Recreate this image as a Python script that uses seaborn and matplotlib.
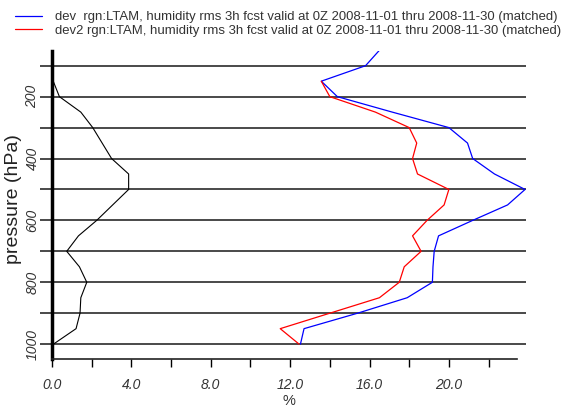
import numpy as np
import pandas as pd
import seaborn as sns
import matplotlib.pyplot as plt

# pressure levels (hPa) and values
levels_dev = [50, 100, 150, 200, 250, 300, 350, 400, 450, 500, 550, 600, 650, 700, 750, 800, 850, 900, 950, 1000]
dev_rms = [16.5, 15.8, 13.57, 14.38, 17.15, 20.0, 20.94, 21.2, 22.3, 23.84, 22.96, 21.2, 19.48, 19.26, 19.2, 19.17, 17.9, 15.4, 12.7, 12.52]

levels_dev2 = [150, 200, 250, 300, 350, 400, 450, 500, 550, 600, 650, 700, 750, 800, 850, 900, 950, 1000]
dev2_rms = [13.57, 14.0, 16.3, 18.0, 18.38, 18.17, 18.42, 20.0, 19.76, 18.9, 18.17, 18.6, 17.75, 17.5, 16.5, 14.0, 11.5, 12.45]

levels_diff = [150, 200, 250, 300, 400, 450, 500, 600, 650, 700, 750, 800, 850, 900, 950, 1000]
diff_vals = [0.06, 0.37, 1.45, 2.05, 3.0, 3.86, 3.86, 2.25, 1.33, 0.74, 1.38, 1.75, 1.45, 1.41, 1.21, 0.07]

legend_labels = ['dev  rgn:LTAM, humidity rms 3h fcst valid at 0Z 2008-11-01 thru 2008-11-30 (matched)',
                 'dev2 rgn:LTAM, humidity rms 3h fcst valid at 0Z 2008-11-01 thru 2008-11-30 (matched)']

sns.set_style('white')
plt.rcParams['font.family'] = ['Liberation Sans', 'DejaVu Sans']

fig = plt.figure(figsize=(5.72, 4.07), dpi=100)
ax = fig.add_axes([0.091, 0.118, 0.829, 0.757])

# horizontal pressure lines
for p in range(100, 1001, 100):
    ax.axhline(p, color='#3a3a3a', linewidth=1.3, zorder=1)

sns.lineplot(x=dev_rms, y=levels_dev, sort=False, estimator=None, color='blue',
             linewidth=0.9, ax=ax, label=legend_labels[0], legend=False, zorder=3)
sns.lineplot(x=dev2_rms, y=levels_dev2, sort=False, estimator=None, color='red',
             linewidth=0.9, ax=ax, label=legend_labels[1], legend=False, zorder=3)
sns.lineplot(x=diff_vals, y=levels_diff, sort=False, estimator=None, color='black',
             linewidth=0.8, ax=ax, legend=False, zorder=3)

ax.set_xlim(0, 23.9)
ax.set_ylim(1048, 52)

# axes / spines
for s in ['top', 'right']:
    ax.spines[s].set_visible(False)
ax.spines['left'].set_linewidth(2.5)
ax.spines['left'].set_color('black')
ax.spines['bottom'].set_linewidth(1.2)
ax.spines['bottom'].set_color('#222222')
ax.spines['bottom'].set_bounds(0, 23.45)

xt = np.arange(0, 23, 2)
ax.set_xticks(xt)
ax.set_xticklabels([f'{v:.1f}' if v % 4 == 0 else '' for v in xt],
                   fontstyle='italic', fontsize=10, color='#333333')
ax.tick_params(axis='x', direction='out', length=6, width=1, color='black', pad=8, bottom=True)

yt = np.arange(100, 1001, 100)
ax.set_yticks(yt)
ax.set_yticklabels([str(v) if v % 200 == 0 else '' for v in yt], rotation=90, va='center',
                   fontstyle='italic', fontsize=10, color='#333333')
ax.tick_params(axis='y', direction='out', length=9, width=1.3, color='#3a3a3a', pad=0, left=True)

ax.set_xlabel('%', fontsize=10.5, color='#333333', labelpad=1)
ax.set_ylabel('pressure (hPa)', fontsize=14, color='#222222')
ax.yaxis.set_label_coords(-0.064, 0.52)

handles, labels = ax.get_legend_handles_labels()
fig.legend(handles, labels, loc='upper left', bbox_to_anchor=(0.006, 1.002), frameon=False,
           fontsize=9.45, handlelength=2.06, handletextpad=1.0, labelspacing=0.1,
           labelcolor='#333333')

plt.savefig('out.png', dpi=100)
